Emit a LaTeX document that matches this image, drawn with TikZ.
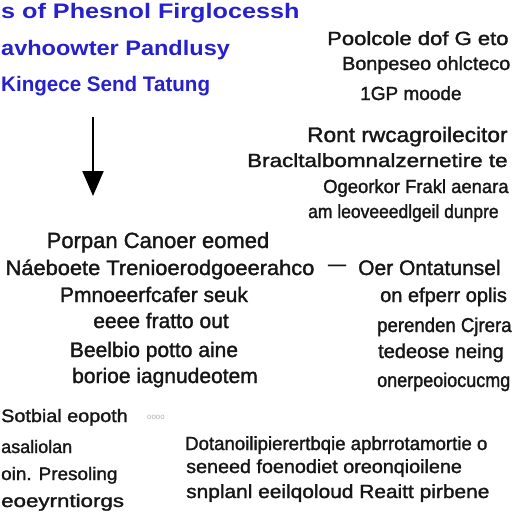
\documentclass[tikz,border=0pt]{standalone}
\usepackage{fontspec}
\setmainfont{Liberation Sans}
\newfontfamily\inkfont[FakeBold=1.5]{Liberation Sans}
\usepackage{graphicx}
\usepackage{xcolor}
\usepackage{tikz}
\usetikzlibrary{arrows.meta}
\definecolor{titleblue}{RGB}{38,32,205}
\definecolor{inkgray}{RGB}{22,22,22}
\newcommand{\txtsize}[1]{\fontsize{#1}{#1}\selectfont}
\newcommand{\widen}[2]{\scalebox{#1}[1]{#2}}

\begin{document}
\begin{tikzpicture}[x=1pt, y=-1pt,
    bluetxt/.style={text=titleblue, font=\bfseries\txtsize{21}, inner sep=0pt},
    inktxt/.style={text=inkgray, inner sep=0pt}]
  \useasboundingbox (0,0) rectangle (512,512);
  \clip (0,0) rectangle (512,512);
  \fill[white] (0,0) rectangle (512,512);

  % blue heading, top left
  \node[bluetxt, anchor=base west] (head1) at (1,18) {\widen{1.2}{s of Phesnol Firglocessh}};
  \node[bluetxt, anchor=base west] (head2) at (1,55) {\widen{1.12}{avhoowter Pandlusy}};
  \node[bluetxt, anchor=base west] (head3) at (1,91) {\widen{0.98}{Kingece Send Tatung}};

  % top right
  \node[inktxt, font=\inkfont\txtsize{19}, anchor=base west] (pool1) at (327,45) {\widen{1.16}{Poolcole dof G eto}};
  \node[inktxt, font=\inkfont\txtsize{19}, anchor=base west] (pool2) at (342,70) {\widen{1.04}{Bonpeseo ohlcteco}};
  \node[inktxt, font=\inkfont\txtsize{19}, anchor=base west] (pool3) at (360,100) {1GP moode};

  % arrow
  \coordinate (arrtop) at (93,117);
  \coordinate (arrtip) at (93,196);
  \draw[line width=2pt, -{Triangle[length=25pt,width=21pt]}] (arrtop) -- (arrtip);

  % right block
  \node[inktxt, font=\inkfont\txtsize{21}, anchor=base west] (ront1) at (307,142) {\widen{1.08}{Ront rwcagroilecitor}};
  \node[inktxt, font=\inkfont\txtsize{19}, anchor=base west] (ront2) at (247,167) {\widen{1.18}{Bracltalbomnalzernetire te}};
  \node[inktxt, font=\inkfont\txtsize{19}, anchor=base west] (ront3) at (323,193) {\widen{0.97}{Ogeorkor Frakl aenara}};
  \node[inktxt, font=\inkfont\txtsize{19}, anchor=base west] (ront4) at (308,218) {\widen{0.92}{am leoveeedlgeil dunpre}};

  % middle left block
  \node[inktxt, font=\inkfont\txtsize{22}, anchor=base] (porp1) at (158,248) {Porpan Canoer eomed};
  \node[inktxt, font=\inkfont\txtsize{21}, anchor=base] (porp2) at (160,275) {\widen{1.04}{Náeboete Trenioerodgoeerahco}};
  \node[inktxt, font=\inkfont\txtsize{21}, anchor=base] (porp3) at (154,302) {Pmnoeerfcafer seuk};
  \node[inktxt, font=\inkfont\txtsize{21}, anchor=base] (porp4) at (161,328) {eeee fratto out};
  \node[inktxt, font=\inkfont\txtsize{21}, anchor=base] (porp5) at (154,357) {Beelbio potto aine};
  \node[inktxt, font=\inkfont\txtsize{21}, anchor=base] (porp6) at (165,383) {borioe iagnudeotem};

  % dash and right column
  \node[inktxt, font=\inkfont\txtsize{18}, anchor=base] (dash) at (337,270) {\textemdash};
  \node[inktxt, font=\inkfont\txtsize{21}, anchor=base west] (oer1) at (358,275) {Oer Ontatunsel};
  \node[inktxt, font=\inkfont\txtsize{20}, anchor=base west] (oer2) at (380,302) {on efperr oplis};
  \node[inktxt, font=\inkfont\txtsize{20}, anchor=base west] (oer3) at (377,332) {\widen{0.93}{perenden Cjrera}};
  \node[inktxt, font=\inkfont\txtsize{20}, anchor=base west] (oer4) at (378,358) {tedeose neing};
  \node[inktxt, font=\inkfont\txtsize{20}, anchor=base west] (oer5) at (377,387) {\widen{0.9}{onerpeoiocucmg}};

  % bottom left
  \node[inktxt, font=\inkfont\txtsize{18}, anchor=base west] (sotb1) at (1,422) {\widen{1.1}{Sotbial eopoth}};
  \node[inktxt, text=gray!60, font=\txtsize{8}] (faint) at (156,417) {oooo};
  \node[inktxt, font=\inkfont\txtsize{18}, anchor=base west] (sotb2) at (1,453) {asaliolan};
  \node[inktxt, font=\inkfont\txtsize{18}, anchor=base west] (sotb3) at (1,480) {\widen{1.05}{oin. Presoling}};
  \node[inktxt, font=\inkfont\txtsize{18}, anchor=base west] (sotb4) at (1,507) {\widen{1.24}{eoeyrntiorgs}};

  % bottom right
  \node[inktxt, font=\inkfont\txtsize{19}, anchor=base west] (dota1) at (185,450) {\widen{0.98}{Dotanoilipierertbqie apbrrotamortie o}};
  \node[inktxt, font=\inkfont\txtsize{19}, anchor=base west] (dota2) at (186,473) {\widen{1.04}{seneed foenodiet oreonqioilene}};
  \node[inktxt, font=\inkfont\txtsize{19}, anchor=base west] (dota3) at (186,498) {\widen{1.1}{snplanl eeilqoloud Reaitt pirbene}};
\end{tikzpicture}
\end{document}
